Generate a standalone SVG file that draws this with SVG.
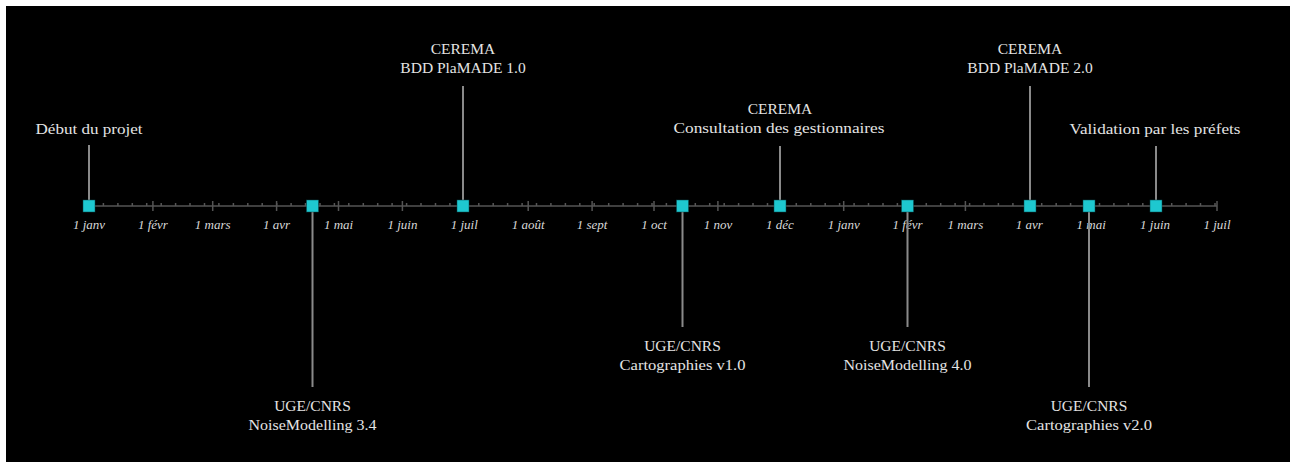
<svg xmlns="http://www.w3.org/2000/svg" width="1290" height="462" viewBox="0 0 1290 462">
<style>
.lbl{font-family:"Liberation Serif","Times New Roman",serif;font-size:15.5px;fill:#e4e4e4;text-anchor:middle}
.ax{font-family:"Liberation Serif","Times New Roman",serif;font-style:italic;font-size:13px;fill:#d8d8d8;text-anchor:middle}
.stem{stroke:#8a8a8a;stroke-width:2;fill:none}
.sq{fill:#1ec8d0;stroke:#0a4a4e;stroke-width:0.5}
.axis{stroke:#555;stroke-width:1.5;fill:none}
</style>
<rect x="0" y="0" width="1290" height="462" fill="#ffffff"/>
<rect x="6" y="6" width="1284" height="456" fill="#000000"/>
<g id="axis">
<line class="axis" x1="89" y1="206" x2="1217" y2="206"/>
<path class="axis" d="M103.4 203v3M117.9 203v3M132.3 203v3M146.7 203v3M161.2 203v3M175.6 203v3M190 203v3M204.5 203v3M218.9 203v3M233.4 203v3M247.8 203v3M262.2 203v3M276.7 203v3M291.1 203v3M305.5 203v3M320 203v3M334.4 203v3M348.8 203v3M363.3 203v3M377.7 203v3M392.1 203v3M406.6 203v3M421 203v3M435.5 203v3M449.9 203v3M464.3 203v3M478.8 203v3M493.2 203v3M507.6 203v3M522.1 203v3M536.5 203v3M550.9 203v3M565.4 203v3M579.8 203v3M594.2 203v3M608.7 203v3M623.1 203v3M637.6 203v3M652 203v3M666.4 203v3M680.9 203v3M695.3 203v3M709.7 203v3M724.2 203v3M738.6 203v3M753 203v3M767.5 203v3M781.9 203v3M796.3 203v3M810.8 203v3M825.2 203v3M839.6 203v3M854.1 203v3M868.5 203v3M883 203v3M897.4 203v3M911.8 203v3M926.3 203v3M940.7 203v3M955.1 203v3M969.6 203v3M984 203v3M998.4 203v3M1012.9 203v3M1027.3 203v3M1041.7 203v3M1056.2 203v3M1070.6 203v3M1085.1 203v3M1099.5 203v3M1113.9 203v3M1128.4 203v3M1142.8 203v3M1157.2 203v3M1171.7 203v3M1186.1 203v3M1200.5 203v3M1215 203v3"/>
<path class="axis" d="M89 201v10M152.9 201v10M212.7 201v10M276.6 201v10M338.5 201v10M402.4 201v10M464.3 201v10M528.2 201v10M592.1 201v10M654 201v10M717.9 201v10M779.8 201v10M843.7 201v10M907.6 201v10M965.4 201v10M1029.3 201v10M1091.2 201v10M1155.1 201v10M1217 201v10"/>
<text class="ax" x="89" y="229">1 janv</text>
<text class="ax" x="152.9" y="229">1 févr</text>
<text class="ax" x="212.7" y="229">1 mars</text>
<text class="ax" x="276.6" y="229">1 avr</text>
<text class="ax" x="338.5" y="229">1 mai</text>
<text class="ax" x="402.4" y="229">1 juin</text>
<text class="ax" x="464.3" y="229">1 juil</text>
<text class="ax" x="528.2" y="229">1 août</text>
<text class="ax" x="592.1" y="229">1 sept</text>
<text class="ax" x="654" y="229">1 oct</text>
<text class="ax" x="717.9" y="229">1 nov</text>
<text class="ax" x="779.8" y="229">1 déc</text>
<text class="ax" x="843.7" y="229">1 janv</text>
<text class="ax" x="907.6" y="229">1 févr</text>
<text class="ax" x="965.4" y="229">1 mars</text>
<text class="ax" x="1029.3" y="229">1 avr</text>
<text class="ax" x="1091.2" y="229">1 mai</text>
<text class="ax" x="1155.1" y="229">1 juin</text>
<text class="ax" x="1217" y="229">1 juil</text>
</g>
<g id="connectors">
<line class="stem" x1="89" y1="145" x2="89" y2="206"/>
<line class="stem" x1="312.5" y1="206" x2="312.5" y2="387"/>
<line class="stem" x1="463" y1="86" x2="463" y2="206"/>
<line class="stem" x1="682.5" y1="206" x2="682.5" y2="327"/>
<line class="stem" x1="780" y1="146" x2="780" y2="206"/>
<line class="stem" x1="907.5" y1="206" x2="907.5" y2="327"/>
<line class="stem" x1="1030" y1="86" x2="1030" y2="206"/>
<line class="stem" x1="1089" y1="206" x2="1089" y2="387"/>
<line class="stem" x1="1156" y1="146" x2="1156" y2="206"/>
</g>
<g id="debut">
<rect class="sq" x="83" y="200" width="12" height="12"/>
<text class="lbl" x="89" y="134" textLength="107" lengthAdjust="spacingAndGlyphs">Début du projet</text>
</g>
<g id="noisemodelling-3-4">
<rect class="sq" x="306.5" y="200" width="12" height="12"/>
<text class="lbl" x="312.5" y="411">UGE/CNRS</text>
<text class="lbl" x="312.5" y="430" textLength="128" lengthAdjust="spacingAndGlyphs">NoiseModelling 3.4</text>
</g>
<g id="bdd-plamade-1-0">
<rect class="sq" x="457" y="200" width="12" height="12"/>
<text class="lbl" x="463" y="54">CEREMA</text>
<text class="lbl" x="463" y="73">BDD PlaMADE 1.0</text>
</g>
<g id="cartographies-v1-0">
<rect class="sq" x="676.5" y="200" width="12" height="12"/>
<text class="lbl" x="682.5" y="351">UGE/CNRS</text>
<text class="lbl" x="682.5" y="370" textLength="126" lengthAdjust="spacingAndGlyphs">Cartographies v1.0</text>
</g>
<g id="consultation">
<rect class="sq" x="774" y="200" width="12" height="12"/>
<text class="lbl" x="780" y="114">CEREMA</text>
<text class="lbl" x="779" y="133" textLength="211" lengthAdjust="spacingAndGlyphs">Consultation des gestionnaires</text>
</g>
<g id="noisemodelling-4-0">
<rect class="sq" x="901.5" y="200" width="12" height="12"/>
<text class="lbl" x="907.5" y="351">UGE/CNRS</text>
<text class="lbl" x="907.5" y="370" textLength="128" lengthAdjust="spacingAndGlyphs">NoiseModelling 4.0</text>
</g>
<g id="bdd-plamade-2-0">
<rect class="sq" x="1024" y="200" width="12" height="12"/>
<text class="lbl" x="1030" y="54">CEREMA</text>
<text class="lbl" x="1030" y="73">BDD PlaMADE 2.0</text>
</g>
<g id="cartographies-v2-0">
<rect class="sq" x="1083" y="200" width="12" height="12"/>
<text class="lbl" x="1089" y="411">UGE/CNRS</text>
<text class="lbl" x="1089" y="430" textLength="126" lengthAdjust="spacingAndGlyphs">Cartographies v2.0</text>
</g>
<g id="validation">
<rect class="sq" x="1150" y="200" width="12" height="12"/>
<text class="lbl" x="1155" y="134" textLength="171" lengthAdjust="spacingAndGlyphs">Validation par les préfets</text>
</g>
</svg>
